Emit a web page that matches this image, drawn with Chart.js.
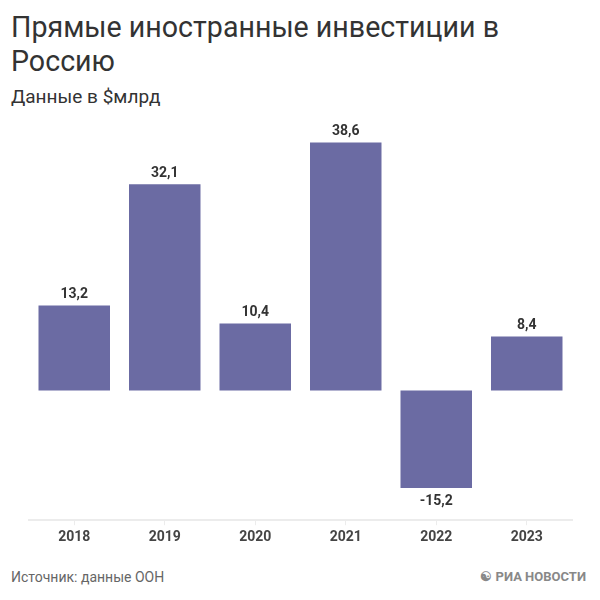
<!DOCTYPE html>
<html>
<head>
<meta charset="utf-8">
<script src="https://cdn.jsdelivr.net/npm/chart.js@4"></script>
<style>
    body { margin: 0; background: #fff; font-family: Roboto, sans-serif; }
    #wrap { position: relative; width: 600px; height: 600px; overflow: hidden; }
    .title { position: absolute; left: 11px; top: 10px; font-size: 28.6px; line-height: 34px; color: #333; }
    .subtitle { position: absolute; left: 11px; top: 85px; font-size: 19px; color: #333; }
    .source { position: absolute; left: 11px; top: 569px; font-size: 14px; color: #666; }
    .logo { position: absolute; right: 14px; top: 569px; font-size: 13px; font-weight: bold; color: #888; }
    #box { position: absolute; left: 0; top: 108px; width: 600px; height: 442px; }
</style>
</head>
<body>
<div id="wrap">
    <div class="title">Прямые иностранные инвестиции в<br>Россию</div>
    <div class="subtitle">Данные в $млрд</div>
    <div id="box"><canvas id="fdiChart"></canvas></div>
    <div class="source">Источник: данные ООН</div>
    <div class="logo">&#9775; РИА НОВОСТИ</div>
</div>
<script>
// Data
const years = ['2018', '2019', '2020', '2021', '2022', '2023'];
const investments = [13.2, 32.1, 10.4, 38.6, -15.2, 8.4];

const barColor = '#6b6ba3';

// value labels above / below bars
const valueLabels = {
    id: 'valueLabels',
    afterDatasetsDraw(chart) {
        const ctx = chart.ctx;
        const meta = chart.getDatasetMeta(0);
        ctx.save();
        ctx.font = 'bold 14px Roboto, sans-serif';
        ctx.fillStyle = '#333';
        ctx.textAlign = 'center';
        ctx.textBaseline = 'middle';
        meta.data.forEach((bar, i) => {
            const v = investments[i];
            const y = v >= 0 ? bar.y - 11 : bar.y + 13;
            ctx.fillText(v.toFixed(1).replace('.', ','), bar.x, y);
        });
        ctx.restore();
    }
};

const ctx = document.getElementById('fdiChart').getContext('2d');
new Chart(ctx, {
    type: 'bar',
    data: {
        labels: years,
        datasets: [{
            data: investments,
            backgroundColor: barColor,
            borderWidth: 0,
            categoryPercentage: 1,
            barPercentage: 0.79
        }]
    },
    options: {
        responsive: true,
        maintainAspectRatio: false,
        animation: false,
        layout: {
            padding: { left: 29, right: 28, top: 19, bottom: 0 }
        },
        scales: {
            x: {
                grid: {
                    display: true,
                    offset: false,
                    drawOnChartArea: false,
                    drawTicks: true,
                    tickLength: 5,
                    color: '#ececec'
                },
                border: { color: '#ececec', width: 2 },
                ticks: {
                    color: '#444',
                    padding: 4,
                    font: { family: 'Roboto, sans-serif', size: 14, weight: 'bold' }
                }
            },
            y: {
                display: false,
                min: -20.2,
                max: 41
            }
        },
        plugins: {
            legend: { display: false },
            tooltip: { enabled: false }
        }
    },
    plugins: [valueLabels]
});
</script>
</body>
</html>
